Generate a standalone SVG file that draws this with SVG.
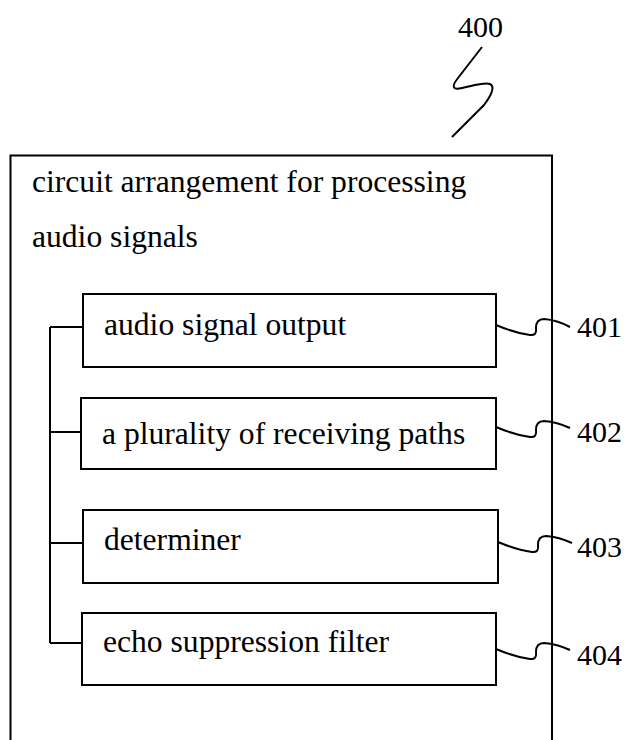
<svg xmlns="http://www.w3.org/2000/svg" width="627" height="740" viewBox="0 0 627 740">
<style>
.t{font-family:"Liberation Serif","Times New Roman",serif;font-size:31.6px;fill:#000}
.n{font-family:"Liberation Serif","Times New Roman",serif;font-size:30px;fill:#000}
.b{fill:#fff;stroke:#000;stroke-width:2}
.l{fill:none;stroke:#000;stroke-width:2}
</style>
<rect width="627" height="740" fill="#fff"/>
<g id="n400">
<text class="n" x="458" y="37">400</text>
<path class="l" d="M482,47 L458,78 C450,88 454,90 462,88 C472,86 484,82 490,84 C496,87 490,97 484,105 L452,137"/>
</g>
<g id="outer">
<path class="l" d="M10.5,740 V155.5 H552 V740"/>
<text class="t" x="32" y="192">circuit arrangement for processing</text>
<text class="t" x="32" y="247">audio signals</text>
</g>
<g id="connectors">
<path class="l" d="M50,327 V643 M50,327 H83 M50,432 H81 M50,543 H83 M50,643 H82"/>
<path class="l" d="M496,325 Q515,333 530,335 Q537,336 536,328 Q536,319 544,319 Q557,320 570,327"/>
<path class="l" d="M496,427 Q515,435 530,437 Q537,438 536,430 Q536,421 544,421 Q557,422 570,428"/>
<path class="l" d="M498,542 Q517,550 532,552 Q539,553 538,545 Q538,536 546,536 Q559,537 572,543"/>
<path class="l" d="M496,649 Q515,657 530,659 Q537,660 536,652 Q536,643 544,643 Q557,644 570,650"/>
</g>
<g id="n401">
<rect class="b" x="83" y="294" width="413" height="73"/>
<text class="t" x="104" y="335">audio signal output</text>
<text class="n" x="577" y="337">401</text>
</g>
<g id="n402">
<rect class="b" x="81" y="398" width="415" height="71"/>
<text class="t" x="102" y="444">a plurality of receiving paths</text>
<text class="n" x="577" y="442">402</text>
</g>
<g id="n403">
<rect class="b" x="83" y="510" width="415" height="73"/>
<text class="t" x="104" y="550">determiner</text>
<text class="n" x="577" y="557">403</text>
</g>
<g id="n404">
<rect class="b" x="82" y="613" width="414" height="72"/>
<text class="t" x="103" y="652">echo suppression filter</text>
<text class="n" x="577" y="665">404</text>
</g>
</svg>
